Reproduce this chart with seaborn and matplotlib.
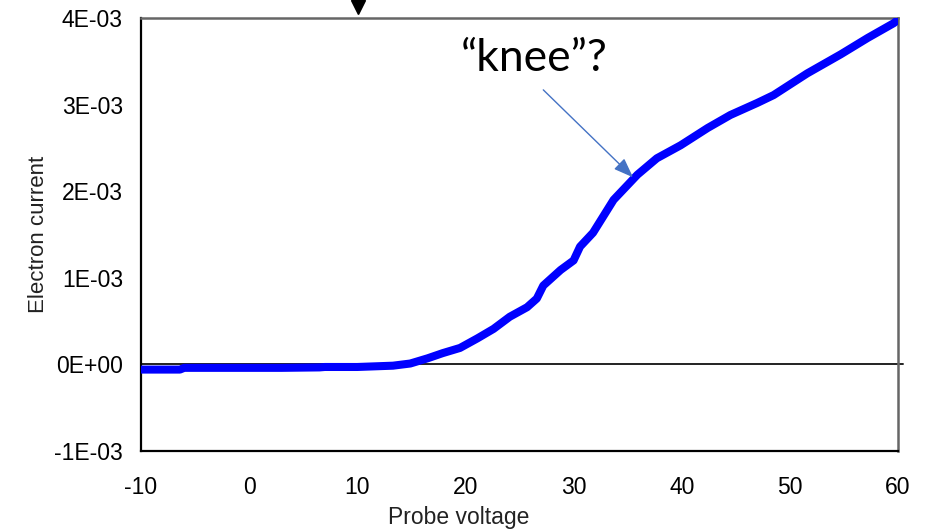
import matplotlib
matplotlib.use("Agg")
import matplotlib.pyplot as plt
from matplotlib.ticker import FuncFormatter, MultipleLocator
import seaborn as sns
import pandas as pd

# Langmuir probe sweep: electron current vs. probe voltage
probe_voltage = [-10, -8, -6.4, -6.0, -3, 0, 3, 6.5, 7.0, 10, 13.3, 14.9, 16.5,
                 17.9, 19.5, 21.1, 22.6, 24.1, 25.7, 26.6, 27.2, 28.8, 30.0, 30.6,
                 31.8, 33.7, 35.9, 37.7, 39.9, 42.4, 44.5, 47.0, 48.5, 51.6, 54.7,
                 57.2, 59.6, 60.0]
electron_current_mA = [-0.06, -0.06, -0.06, -0.04, -0.04, -0.04, -0.04, -0.035, -0.03,
                       -0.03, -0.015, 0.01, 0.07, 0.13, 0.19, 0.30, 0.41, 0.55, 0.66,
                       0.76, 0.91, 1.09, 1.20, 1.36, 1.52, 1.90, 2.19, 2.38, 2.53, 2.73,
                       2.88, 3.02, 3.11, 3.36, 3.58, 3.77, 3.94, 3.98]
electron_current = [v * 1e-3 for v in electron_current_mA]

x_ticks = [-10, 0, 10, 20, 30, 40, 50, 60]
y_ticks = [-1e-3, 0, 1e-3, 2e-3, 3e-3, 4e-3]

knee_label = "\u201cknee\u201d?"
knee_point = (35.5, 2.16e-3)
knee_text_pos = (26.4, 3.53e-3)
arrow_tail = (27.2, 3.17e-3)

sns.set_theme(style="white")
plt.rcParams["font.family"] = ["Liberation Sans", "DejaVu Sans"]
plt.rcParams["axes.unicode_minus"] = False

df = pd.DataFrame({"Probe voltage": probe_voltage, "Electron current": electron_current})

fig = plt.figure(figsize=(9.3, 5.31), dpi=100)
ax = fig.add_axes([0.1516, 0.1507, 0.8140, 0.8154])

sns.lineplot(data=df, x="Probe voltage", y="Electron current", ax=ax,
             color="#0000ff", linewidth=5.8, sort=False, zorder=3,
             solid_capstyle="round", solid_joinstyle="round")

ax.axhline(0, xmin=0, xmax=1.006, color="#222222", linewidth=1.4, zorder=2, clip_on=False)

ax.set_xlim(-10, 60)
ax.set_ylim(-1e-3, 4e-3)
ax.set_xticks(x_ticks)
ax.set_yticks(y_ticks)
ax.xaxis.set_minor_locator(MultipleLocator(2))
ax.yaxis.set_major_formatter(FuncFormatter(lambda v, p: format(v, ".0E")))

ax.tick_params(axis="x", which="major", direction="in", length=5.5, width=1.2,
               pad=18, labelsize=16.5, colors="black")
ax.tick_params(axis="x", which="minor", direction="in", length=3, width=1.0)
ax.tick_params(axis="y", which="major", direction="in", length=5, width=1.2,
               pad=13, labelsize=16.5, colors="black")

for side in ("left", "bottom"):
    ax.spines[side].set_color("black")
    ax.spines[side].set_linewidth(1.6)
for side in ("top", "right"):
    ax.spines[side].set_color("#666666")
    ax.spines[side].set_linewidth(1.8)

ax.set_xlabel("Probe voltage", fontsize=16.5, color="#222222")
ax.set_ylabel("Electron current", fontsize=16, color="#222222")
ax.xaxis.set_label_coords(0.42, -0.128)
ax.yaxis.set_label_coords(-0.122, 0.5)

# marker pointing down at the top edge
ax.plot([10.1], [4.13e-3], marker="v", markersize=10.5, color="black",
        clip_on=False, linestyle="none", zorder=5)

ax.annotate("", xy=knee_point, xytext=arrow_tail,
            arrowprops=dict(arrowstyle="-|>,head_length=0.8,head_width=0.3",
                            mutation_scale=15, color="#4472c4", lw=1.0,
                            shrinkA=0, shrinkB=0))
ax.text(*knee_text_pos, knee_label, fontsize=32, family=["Lato", "DejaVu Sans"],
        ha="center", va="center", color="black")

fig.savefig("out.png", dpi=100)
